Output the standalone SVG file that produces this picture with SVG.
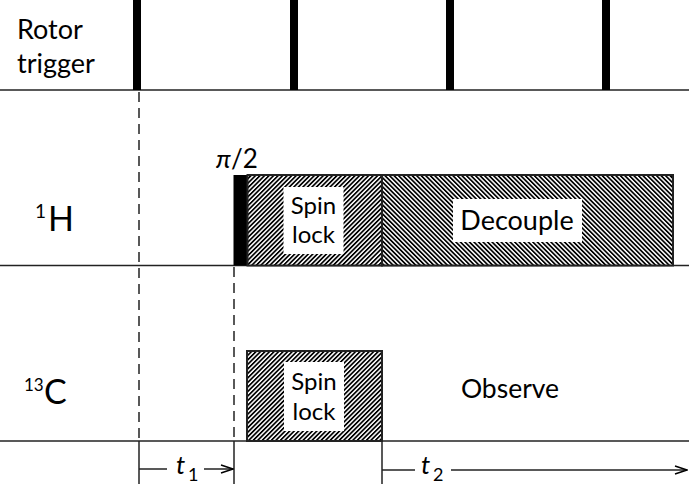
<svg xmlns="http://www.w3.org/2000/svg" width="689" height="484" viewBox="0 0 689 484">
<style>
text{font-family:Lato,"Open Sans","Liberation Sans",sans-serif;fill:#000}
.lbl{font-size:27px}
.box{font-size:24px}
.axis{stroke:#222;stroke-width:1.5;fill:none}
.bar{fill:#000}
.dash{stroke:#222;stroke-width:1.5;stroke-dasharray:10,6;fill:none}
.tick{stroke:#222;stroke-width:1.5;fill:none}
.pulse{stroke:#222;stroke-width:2}
.white{fill:#fff}
</style>
<defs>
<pattern id="hatchF" patternUnits="userSpaceOnUse" width="3.2" height="3.2" patternTransform="rotate(45)">
<rect width="3.2" height="3.2" fill="#fff"/>
<rect width="1.7" height="3.2" fill="#000"/>
</pattern>
<pattern id="hatchB" patternUnits="userSpaceOnUse" width="3.2" height="3.2" patternTransform="rotate(-45)">
<rect width="3.2" height="3.2" fill="#fff"/>
<rect width="1.7" height="3.2" fill="#000"/>
</pattern>
<marker id="arr" markerWidth="14" markerHeight="10" refX="13" refY="5" orient="auto" markerUnits="userSpaceOnUse">
<path d="M1,1 L13,5 L1,9" fill="none" stroke="#000" stroke-width="1.5"/>
</marker>
</defs>
<rect width="689" height="484" fill="#fff"/>

<g id="axes">
<line class="axis" x1="0" y1="90" x2="689" y2="90"/>
<line class="axis" x1="0" y1="265.5" x2="689" y2="265.5"/>
<line class="axis" x1="0" y1="441" x2="689" y2="441"/>
</g>

<g id="rotor-trigger">
<text class="lbl" x="17" y="39">Rotor</text>
<text class="lbl" x="17" y="73">trigger</text>
<rect class="bar" x="133" y="0" width="8" height="90"/>
<rect class="bar" x="290" y="0" width="8" height="90"/>
<rect class="bar" x="446" y="0" width="8" height="90"/>
<rect class="bar" x="602" y="0" width="8" height="90"/>
</g>

<g id="h-label">
<text x="35" y="218" font-size="19">1</text>
<text x="48" y="231" font-size="34">H</text>
</g>

<g id="c-label">
<text x="24" y="391" font-size="17">13</text>
<text x="44" y="404" font-size="34">C</text>
</g>

<g id="pi2-pulse">
<text x="216" y="168" font-size="26"><tspan font-style="italic">π</tspan>/2</text>
<rect x="233.5" y="175" width="14" height="90.5" fill="#000"/>
</g>

<g id="h-spinlock">
<rect class="pulse" x="247.5" y="175" width="134.5" height="90.5" fill="url(#hatchF)"/>
<rect class="white" x="283.5" y="187" width="60" height="67"/>
<text class="box" x="313.5" y="214" text-anchor="middle">Spin</text>
<text class="box" x="313.5" y="243" text-anchor="middle">lock</text>
</g>

<g id="h-decouple">
<rect class="pulse" x="382" y="175" width="291" height="90.5" fill="url(#hatchB)"/>
<rect class="white" x="453" y="199" width="129" height="43"/>
<text x="517" y="230" font-size="27" text-anchor="middle">Decouple</text>
</g>

<g id="c-spinlock">
<rect class="pulse" x="247" y="351" width="135" height="90" fill="url(#hatchF)"/>
<rect class="white" x="284" y="362" width="60" height="69"/>
<text class="box" x="314" y="390" text-anchor="middle">Spin</text>
<text class="box" x="314" y="420" text-anchor="middle">lock</text>
</g>

<g id="c-observe">
<text x="510" y="398" font-size="26.5" text-anchor="middle">Observe</text>
</g>

<g id="t1-label">
<text x="176" y="474" font-size="26" font-style="italic">t</text>
<text x="188" y="481" font-size="18">1</text>
</g>

<g id="t2-label">
<text x="421" y="474" font-size="26" font-style="italic">t</text>
<text x="433" y="481" font-size="18">2</text>
</g>

<g id="connectors">
<line class="dash" x1="139" y1="92" x2="139" y2="441"/>
<line class="dash" x1="234" y1="267" x2="234" y2="441"/>
<line class="tick" x1="139" y1="441" x2="139" y2="484"/>
<line class="tick" x1="234" y1="441" x2="234" y2="484"/>
<line class="tick" x1="382" y1="441" x2="382" y2="484"/>
<line class="tick" x1="139" y1="469" x2="167" y2="469"/>
<line class="tick" x1="204" y1="469" x2="233" y2="469" marker-end="url(#arr)"/>
<line class="tick" x1="382" y1="470" x2="415" y2="470"/>
<line class="tick" x1="451" y1="470" x2="687" y2="470" marker-end="url(#arr)"/>
</g>
</svg>
